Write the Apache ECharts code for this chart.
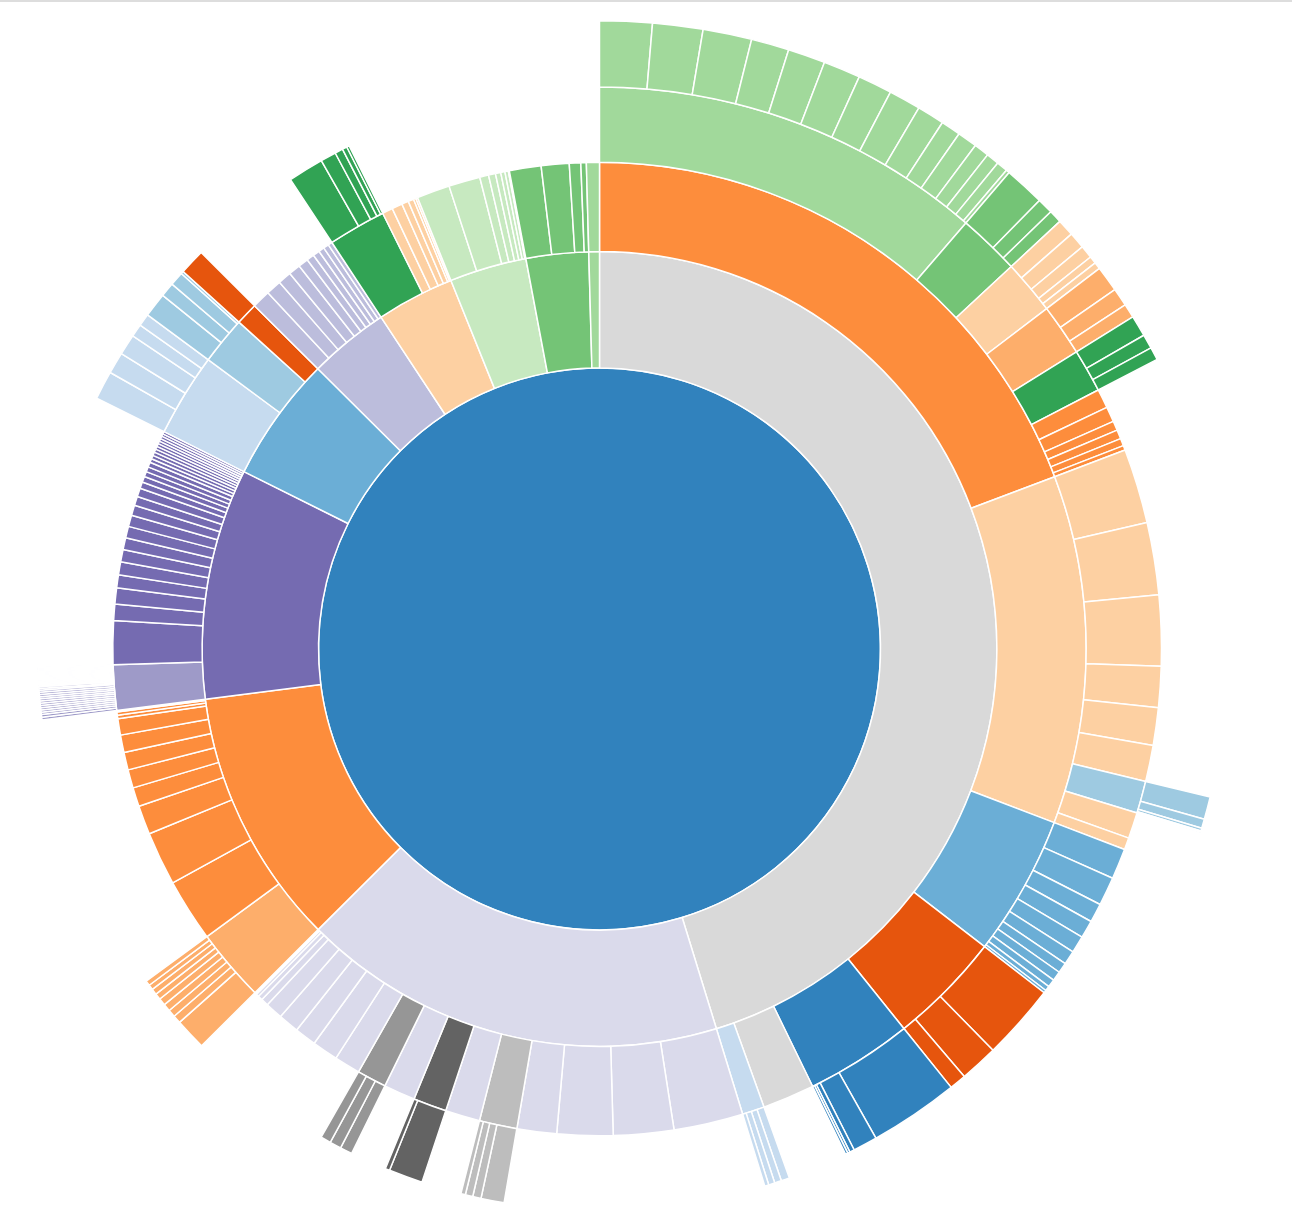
<!DOCTYPE html>
<html>
<head>
<meta charset="utf-8">
<title>flare</title>
<script src="https://cdn.jsdelivr.net/npm/echarts@6/dist/echarts.min.js"></script>
<style>
    html, body { margin: 0; padding: 0; background: #fff; }
    #topline { position: absolute; left: 0; top: 0; width: 100%; height: 2px; background: #dddddd; z-index: 2; }
    #chart { width: 1292px; height: 1226px; }
</style>
</head>
<body>
<div id="topline"></div>
<div id="chart"></div>
<script>
// leaves of each package: [name, size]
var cluster = [["AgglomerativeCluster", 3938], ["CommunityStructure", 3812], ["HierarchicalCluster", 6714], ["MergeEdge", 743]];
var graph = [["BetweennessCentrality", 3534], ["LinkDistance", 5731], ["MaxFlowMinCut", 7840], ["ShortestPaths", 5914], ["SpanningTree", 3416]];
var optimization = [["AspectRatioBanker", 7074]];

var animate = [["Easing", 17010], ["FunctionSequence", 5842], ["ISchedulable", 1041], ["Parallel", 5176], ["Pause", 449],
    ["Scheduler", 5593], ["Sequence", 5534], ["Transition", 9201], ["Transitioner", 19975], ["TransitionEvent", 1116], ["Tween", 6006]];
var interpolate = [["ArrayInterpolator", 1983], ["ColorInterpolator", 2047], ["DateInterpolator", 1375], ["Interpolator", 8746],
    ["MatrixInterpolator", 2202], ["NumberInterpolator", 1382], ["ObjectInterpolator", 1629], ["PointInterpolator", 1675], ["RectangleInterpolator", 2042]];

var data = [["DataField", 1759], ["DataSchema", 2165], ["DataSet", 586], ["DataSource", 3331], ["DataTable", 772], ["DataUtil", 3322]];
var converters = [["Converters", 721], ["DelimitedTextConverter", 4294], ["GraphMLConverter", 9800], ["IDataConverter", 1314], ["JSONConverter", 2220]];

var display = [["DirtySprite", 8833], ["LineSprite", 1732], ["RectSprite", 3623], ["TextSprite", 10066]];
var flex = [["FlareVis", 4116]];
var physics = [["DragForce", 1082], ["GravityForce", 1336], ["IForce", 319], ["NBodyForce", 10498], ["Particle", 2822],
    ["Simulation", 9983], ["Spring", 2213], ["SpringForce", 1681]];

var query = [["AggregateExpression", 1616], ["And", 1027], ["Arithmetic", 3891], ["Average", 891], ["BinaryExpression", 2893],
    ["Comparison", 5103], ["CompositeExpression", 3677], ["Count", 781], ["DateUtil", 4141], ["Distinct", 933], ["Expression", 5130],
    ["ExpressionIterator", 3617], ["Fn", 3240], ["If", 2732], ["IsA", 2039], ["Literal", 1214], ["Match", 3748], ["Maximum", 843],
    ["Minimum", 843], ["Not", 1554], ["Or", 970], ["Query", 13896], ["Range", 1594], ["StringUtil", 4130], ["Sum", 791],
    ["Variable", 1124], ["Variance", 1876], ["Xor", 1101]];
var methods = [["add", 593], ["and", 330], ["average", 287], ["count", 277], ["distinct", 292], ["div", 595], ["eq", 594], ["fn", 460],
    ["gt", 603], ["gte", 625], ["iff", 748], ["isa", 461], ["lt", 597], ["lte", 619], ["max", 283], ["min", 283], ["mod", 591],
    ["mul", 603], ["neq", 599], ["not", 386], ["or", 323], ["orderby", 307], ["range", 772], ["select", 296], ["stddev", 363],
    ["sub", 600], ["sum", 280], ["update", 307], ["variance", 335], ["where", 299], ["xor", 354], ["_", 264]];

var scale = [["IScaleMap", 2105], ["LinearScale", 1316], ["LogScale", 3151], ["OrdinalScale", 3770], ["QuantileScale", 2435],
    ["QuantitativeScale", 4839], ["RootScale", 1756], ["Scale", 4268], ["ScaleType", 1821], ["TimeScale", 5833]];

var util = [["Arrays", 8258], ["Colors", 10001], ["Dates", 8217], ["Displays", 12555], ["Filter", 2324], ["Geometry", 10993],
    ["IEvaluable", 335], ["IPredicate", 383], ["IValueProxy", 874], ["Maths", 17705], ["Orientation", 1486], ["Property", 5559],
    ["Shapes", 19118], ["Sort", 6887], ["Stats", 6557], ["Strings", 22026]];
var heap = [["FibonacciHeap", 9354], ["HeapNode", 1233]];
var math = [["DenseMatrix", 3165], ["IMatrix", 2815], ["SparseMatrix", 3366]];
var palette = [["ColorPalette", 6367], ["Palette", 1229], ["ShapePalette", 2059], ["SizePalette", 2291]];

var vis = [["Visualization", 16540]];
var axis = [["Axes", 1302], ["Axis", 24593], ["AxisGridLine", 652], ["AxisLabel", 636], ["CartesianAxes", 6703]];
var controls = [["AnchorControl", 2138], ["ClickControl", 3824], ["Control", 1353], ["ControlList", 4665], ["DragControl", 2649],
    ["ExpandControl", 2832], ["HoverControl", 4896], ["IControl", 763], ["PanZoomControl", 5222], ["SelectionControl", 7862], ["TooltipControl", 8435]];
var visData = [["Data", 20544], ["DataList", 19788], ["DataSprite", 10349], ["EdgeSprite", 3301], ["NodeSprite", 19382],
    ["ScaleBinding", 11275], ["Tree", 7147], ["TreeBuilder", 9930]];
var render = [["ArrowType", 698], ["EdgeRenderer", 5569], ["IRenderer", 353], ["ShapeRenderer", 2247]];
var events = [["DataEvent", 2313], ["SelectionEvent", 1880], ["TooltipEvent", 1701], ["VisualizationEvent", 1117]];
var legend = [["Legend", 20859], ["LegendItem", 4614], ["LegendRange", 10530]];
var operator = [["IOperator", 1286], ["Operator", 2490], ["OperatorList", 5248], ["OperatorSequence", 4190], ["OperatorSwitch", 2581], ["SortOperator", 2023]];
var distortion = [["BifocalDistortion", 4461], ["Distortion", 6314], ["FisheyeDistortion", 3444]];
var encoder = [["ColorEncoder", 3179], ["Encoder", 4060], ["PropertyEncoder", 4138], ["ShapeEncoder", 1690], ["SizeEncoder", 1830]];
var filter = [["FisheyeTreeFilter", 5219], ["GraphDistanceFilter", 3165], ["VisibilityFilter", 3509]];
var label = [["Labeler", 9956], ["RadialLabeler", 3899], ["StackedAreaLabeler", 3202]];
var layout = [["AxisLayout", 6725], ["BundledEdgeRouter", 3727], ["CircleLayout", 9317], ["CirclePackingLayout", 12003],
    ["DendrogramLayout", 4853], ["ForceDirectedLayout", 8411], ["IcicleTreeLayout", 4864], ["IndentedTreeLayout", 3174],
    ["Layout", 7881], ["NodeLinkTreeLayout", 12870], ["PieLayout", 2728], ["RadialTreeLayout", 12348], ["RandomLayout", 870],
    ["StackedAreaLayout", 9121], ["TreeMapLayout", 9191]];

var category20c = ["#3182bd", "#6baed6", "#9ecae1", "#c6dbef", "#e6550d", "#fd8d3c", "#fdae6b", "#fdd0a2",
    "#31a354", "#74c476", "#a1d99b", "#c7e9c0", "#756bb1", "#9e9ac8", "#bcbddc", "#dadaeb",
    "#636363", "#969696", "#bdbdbd", "#d9d9d9"];

// a package: sub packages first (in source order), then its own leaves
function pkg(name, subs, leaves) {
    var kids = subs.slice();
    (leaves || []).forEach(function (l) { kids.push({ name: l[0], value: l[1] }); });
    return { name: name, children: kids };
}

var root = pkg("flare", [
    pkg("analytics", [pkg("cluster", [], cluster), pkg("graph", [], graph), pkg("optimization", [], optimization)]),
    pkg("animate", [pkg("interpolate", [], interpolate)], animate),
    pkg("data", [pkg("converters", [], converters)], data),
    pkg("display", [], display),
    pkg("flex", [], flex),
    pkg("physics", [], physics),
    pkg("query", [pkg("methods", [], methods)], query),
    pkg("scale", [], scale),
    pkg("util", [pkg("heap", [], heap), pkg("math", [], math), pkg("palette", [], palette)], util),
    pkg("vis", [
        pkg("axis", [], axis),
        pkg("controls", [], controls),
        pkg("data", [pkg("render", [], render)], visData),
        pkg("events", [], events),
        pkg("legend", [], legend),
        pkg("operator", [
            pkg("distortion", [], distortion),
            pkg("encoder", [], encoder),
            pkg("filter", [], filter),
            pkg("label", [], label),
            pkg("layout", [], layout)
        ], operator)
    ], vis)
]);

// ordinal colour by package name, leaves take their package's colour
var domain = [];
function colorOf(name) {
    var i = domain.indexOf(name);
    if (i < 0) { domain.push(name); i = domain.length - 1; }
    return category20c[i % category20c.length];
}
function paint(node, parentColor) {
    var c = node.children ? colorOf(node.name) : parentColor;
    node.itemStyle = { color: c };
    if (node.children) node.children.forEach(function (k) { paint(k, c); });
}
paint(root, null);

var dom = document.getElementById("chart");
var myChart = echarts.init(dom, null, { renderer: "canvas" });

var R = 281; // radius of the centre disc, rings grow with sqrt(depth)
var levels = [{}];
for (var d = 0; d < 5; d++) {
    levels.push({ r0: d === 0 ? 0 : R * Math.sqrt(d), r: R * Math.sqrt(d + 1) });
}

var option = {
    animation: false,
    backgroundColor: "#ffffff",
    series: [
        {
            type: "sunburst",
            center: [599.5, 649],
            data: [root],
            sort: "desc",
            startAngle: 90,
            clockwise: true,
            nodeClick: false,
            levels: levels,
            itemStyle: { borderColor: "#ffffff", borderWidth: 1.5 },
            label: { show: false },
            emphasis: { focus: "none", label: { show: false } }
        }
    ]
};

myChart.setOption(option);
window.addEventListener("resize", myChart.resize);
</script>
</body>
</html>
